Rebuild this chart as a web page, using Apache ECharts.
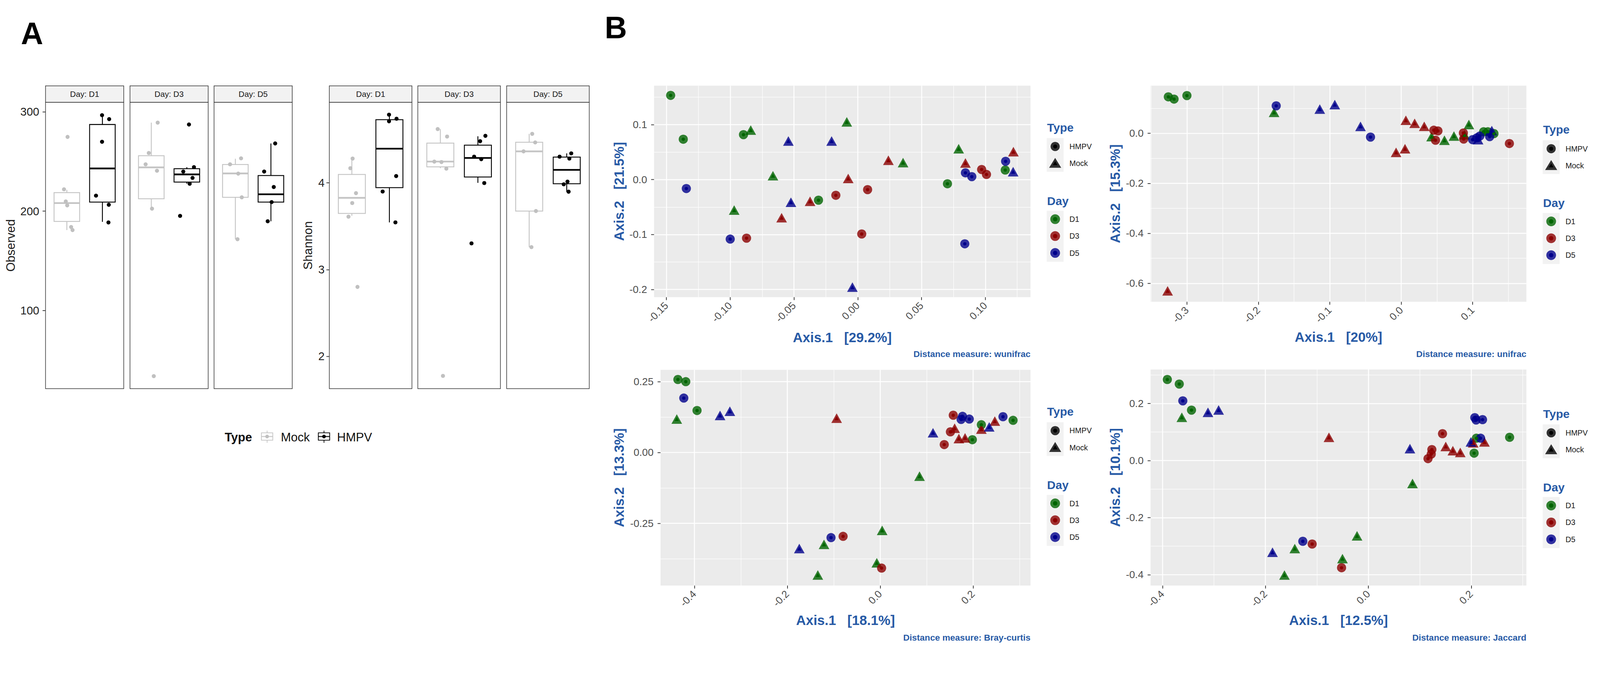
<!DOCTYPE html>
<html lang="en">
<head>
<meta charset="UTF-8">
<title>Alpha diversity and PCoA</title>
<script src="https://cdn.jsdelivr.net/npm/echarts@6/dist/echarts.min.js"></script>
<style>
  html, body { margin: 0; padding: 0; background: #fff; overflow: hidden; }
  #chart { width: 4358px; height: 1769px; transform-origin: 0 0; }
</style>
</head>
<body>
<div id="chart"></div>
<script>
// ---------- panel A : alpha diversity ----------
var days = ['D1', 'D3', 'D5'];
var types = ['Mock', 'HMPV'];

// box stats per day: [lower whisker, Q1, median, Q3, upper whisker]
var observedBoxMock = [[180.9, 189.6, 208.1, 218.7, 221.4], [202.5, 212.5, 244.1, 255.9, 289.2], [171.7, 213.9, 238.0, 247.0, 252.8]];
var observedBoxHmpv = [[189.2, 209.1, 243.0, 287.3, 296.7], [227.6, 229.3, 237.0, 242.8, 244.3], [189.8, 209.1, 217.0, 235.9, 268.2]];
var shannonBoxMock = [[3.62, 3.648, 3.827, 4.097, 4.28], [4.169, 4.185, 4.245, 4.458, 4.62], [3.259, 3.675, 4.363, 4.468, 4.565]];
var shannonBoxHmpv = [[3.544, 3.945, 4.394, 4.729, 4.786], [4.0, 4.067, 4.287, 4.435, 4.537], [3.895, 3.99, 4.15, 4.297, 4.34]];

// samples per day: [jitter offset, value]
var observedPtsMock = [
  [[0.02, 274.8], [-0.08, 222.0], [-0.03, 209.8], [0.01, 205.8], [0.12, 184.0], [0.16, 180.9]],
  [[0.18, 289.2], [-0.07, 258.6], [-0.16, 247.2], [0.16, 240.7], [0.02, 202.5], [0.07, 33.7]],
  [[0.16, 253.2], [-0.15, 247.2], [0.08, 237.8], [0.18, 213.9], [0.06, 171.7]]
];
var observedPtsHmpv = [
  [[-0.01, 296.7], [0.19, 292.7], [-0.01, 269.9], [-0.18, 215.6], [0.18, 206.4], [0.17, 188.6]],
  [[0.06, 287.3], [0.20, 244.3], [-0.10, 239.9], [0.16, 233.5], [0.08, 227.6], [-0.19, 195.2]],
  [[0.12, 268.2], [-0.19, 239.9], [0.08, 224.3], [0.02, 209.1], [-0.09, 189.8]]
];
var shannonPtsMock = [
  [[0.02, 4.28], [-0.04, 4.169], [0.11, 3.881], [0.01, 3.767], [-0.09, 3.61], [0.15, 2.80]],
  [[-0.07, 4.62], [0.18, 4.534], [-0.16, 4.245], [0.03, 4.24], [0.16, 4.164], [0.07, 1.774]],
  [[0.08, 4.565], [0.16, 4.466], [-0.15, 4.363], [0.18, 3.675], [0.06, 3.259]]
];
var shannonPtsHmpv = [
  [[-0.01, 4.786], [-0.01, 4.71], [0.19, 4.739], [0.18, 4.078], [-0.18, 3.90], [0.16, 3.544]],
  [[0.20, 4.542], [0.06, 4.48], [-0.10, 4.302], [0.09, 4.273], [0.17, 3.998], [-0.17, 3.302]],
  [[0.12, 4.34], [-0.19, 4.302], [0.07, 4.28], [0.02, 4.014], [-0.08, 3.983], [0.05, 3.898]]
];
var observedTicks = [100, 200, 300];
var shannonTicks = [2, 3, 4];
var observedRange = [21.1, 309.7];
var shannonRange = [1.627, 4.929];

// ---------- panel B : PCoA ordinations, [Axis.1, Axis.2] ----------
var wuD1Hmpv = [[-0.1467, 0.1532], [-0.1368, 0.0734], [-0.0896, 0.0817], [-0.0308, -0.0375], [0.0703, -0.0076], [0.1156, 0.0173]];
var wuD1Mock = [[-0.0839, 0.0900], [-0.0086, 0.1050], [-0.0665, 0.0070], [-0.0969, -0.0555], [0.0355, 0.0309], [0.0791, 0.0561]];
var wuD3Hmpv = [[-0.0872, -0.1066], [-0.0172, -0.0286], [0.0077, -0.0183], [0.0031, -0.0990], [0.0971, 0.0183], [0.1009, 0.0093]];
var wuD3Mock = [[-0.0597, -0.0694], [-0.0374, -0.0395], [-0.0075, 0.0020], [0.0240, 0.0352], [0.0844, 0.0302], [0.1220, 0.0508]];
var wuD5Hmpv = [[-0.1344, -0.0163], [-0.1000, -0.1083], [0.0839, -0.1169], [0.0844, 0.0123], [0.0894, 0.0053], [0.1159, 0.0332]];
var wuD5Mock = [[-0.0544, 0.0701], [-0.0205, 0.0701], [-0.0524, -0.0412], [-0.0042, -0.1957], [0.1218, 0.0143]];

var uD1Hmpv = [[-0.326, 0.146], [-0.318, 0.137], [-0.300, 0.151], [0.1153, 0.0063], [0.1213, 0.0063], [0.1298, -0.001]];
var uD1Mock = [[-0.178, 0.084], [0.0425, -0.013], [0.0605, -0.0276], [0.0738, -0.0107], [0.0947, 0.0354], [0.0887, -0.0058]];
var uD3Hmpv = [[0.0456, 0.0126], [0.0514, 0.0097], [0.048, -0.0276], [0.087, 0.0015], [0.0874, -0.0228], [0.1514, -0.0407]];
var uD3Mock = [[-0.327, -0.630], [0.0065, 0.0523], [0.0188, 0.0402], [0.0322, 0.0281], [-0.0072, -0.076], [0.0053, -0.0615]];
var uD5Hmpv = [[-0.175, 0.110], [-0.043, -0.015], [0.0999, -0.0252], [0.1059, -0.0179], [0.1101, -0.0107], [0.1238, -0.0131]];
var uD5Mock = [[-0.114, 0.097], [-0.093, 0.115], [-0.057, 0.028], [0.1076, -0.0252], [0.1268, 0.0111]];

var bcD1Hmpv = [[-0.4356, 0.2574], [-0.4186, 0.2497], [-0.3944, 0.148], [0.2861, 0.1133], [0.2178, 0.0978], [0.1984, 0.045]];
var bcD1Mock = [[-0.438, 0.1178], [0.0847, -0.0837], [0.0042, -0.2748], [-0.121, -0.3243], [-0.0073, -0.3893], [-0.1343, -0.4324]];
var bcD3Hmpv = [[0.1573, 0.1313], [0.1512, 0.0727], [0.1379, 0.0277], [-0.0799, -0.296], [0.003, -0.408]];
var bcD3Mock = [[-0.0938, 0.121], [0.1603, 0.0856], [0.1694, 0.0489], [0.1827, 0.0515], [0.2178, 0.0824], [0.2468, 0.1107]];
var bcD5Hmpv = [[-0.4229, 0.1918], [0.1773, 0.1274], [0.1742, 0.1165], [0.1918, 0.1178], [0.2644, 0.1261], [-0.1059, -0.3005]];
var bcD5Mock = [[-0.3448, 0.1306], [-0.3237, 0.1454], [0.1137, 0.0695], [0.2347, 0.0901], [-0.1742, -0.3391]];

var jD1Hmpv = [[-0.3906, 0.2837], [-0.3674, 0.2677], [-0.3436, 0.1764], [0.2746, 0.0812], [0.2056, 0.0256], [0.21, 0.078]];
var jD1Mock = [[-0.3624, 0.1514], [0.0859, -0.0805], [-0.0219, -0.2639], [-0.1429, -0.3086], [-0.0502, -0.3438], [-0.163, -0.4013]];
var jD3Hmpv = [[0.1442, 0.0939], [0.1235, 0.0383], [0.1223, 0.0224], [0.116, 0.0064], [-0.1091, -0.2927], [-0.052, -0.3757]];
var jD3Mock = [[-0.0765, 0.0812], [0.1505, 0.0492], [0.1643, 0.0345], [0.1787, 0.0281], [0.2038, 0.062], [0.2257, 0.0652]];
var jD5Hmpv = [[-0.3605, 0.2089], [0.2069, 0.1501], [0.2095, 0.1418], [0.222, 0.1431], [0.2182, 0.078], [-0.1273, -0.2831]];
var jD5Mock = [[-0.3116, 0.1687], [-0.2909, 0.177], [0.0809, 0.0415], [0.1994, 0.0652], [-0.1862, -0.3214]];

var axis1Pct = ['29.2%', '20%', '18.1%', '12.5%'];
var axis2Pct = ['21.5%', '15.3%', '13.3%', '10.1%'];
var distNames = ['wunifrac', 'unifrac', 'Bray-curtis', 'Jaccard'];

var wuXTicks = [-0.15, -0.10, -0.05, 0, 0.05, 0.10];
var wuXMinor = [-0.125, -0.075, -0.025, 0.025, 0.075, 0.125];
var wuYTicks = [-0.2, -0.1, 0, 0.1];
var wuYMinor = [-0.15, -0.05, 0.05, 0.15];
var uXTicks = [-0.3, -0.2, -0.1, 0, 0.1];
var uXMinor = [-0.35, -0.25, -0.15, -0.05, 0.05, 0.15];
var uYTicks = [-0.6, -0.4, -0.2, 0];
var uYMinor = [-0.5, -0.3, -0.1, 0.1];
var bcXTicks = [-0.4, -0.2, 0, 0.2];
var bcXMinor = [-0.3, -0.1, 0.1, 0.3];
var bcYTicks = [-0.25, 0, 0.25];
var bcYMinor = [-0.375, -0.125, 0.125];
var jXTicks = [-0.4, -0.2, 0, 0.2];
var jXMinor = [-0.3, -0.1, 0.1, 0.3];
var jYTicks = [-0.4, -0.2, 0, 0.2];
var jYMinor = [-0.3, -0.1, 0.1, 0.3];

var FONT = '"Liberation Sans", Arial, Helvetica, sans-serif';
var BLUE = '#275aa6';
var dayOuter = ['rgba(0,100,0,0.8)', 'rgba(139,0,0,0.8)', 'rgba(0,0,139,0.8)'];
var dayInner = ['#006400', '#8b0000', '#00008b'];

// the figure is laid out on a 4358 x 1769 canvas; shrink it to fit the viewport if needed
var dom = document.getElementById('chart');
var fit = Math.min(window.innerWidth / 4358, window.innerHeight / 1769);
if (fit < 1) dom.style.transform = 'scale(' + fit + ')';
var chart = echarts.init(dom, null, { renderer: 'svg' });

var grids = [], xAxes = [], yAxes = [], series = [], elements = [];

// ---- panel A layout ----
var alphaPlots = [
  { name: 'Observed', lefts: [124, 354, 583], width: 213, ticks: observedTicks, range: observedRange,
    boxes: [observedBoxMock, observedBoxHmpv], pts: [observedPtsMock, observedPtsHmpv], nameGap: 78, labelMargin: 17 },
  { name: 'Shannon', lefts: [897, 1138, 1380], width: 225, ticks: shannonTicks, range: shannonRange,
    boxes: [shannonBoxMock, shannonBoxHmpv], pts: [shannonPtsMock, shannonPtsHmpv], nameGap: 42, labelMargin: 13 }
];
var boxColor = ['#c4c4c4', '#000000'];
var ptColor = ['#c0c0c0', '#000000'];
var boxHalf = 0.36;
var panelTop = 278.6, panelH = 780, stripH = 44.9;

function renderBox(params, api) {
  var x = api.value(0);
  var lo = api.coord([x, api.value(1)]);
  var q1 = api.coord([x, api.value(2)]);
  var md = api.coord([x, api.value(3)]);
  var q3 = api.coord([x, api.value(4)]);
  var hi = api.coord([x, api.value(5)]);
  var l = api.coord([x - boxHalf, api.value(3)])[0];
  var r = api.coord([x + boxHalf, api.value(3)])[0];
  var c = api.visual('color');
  return {
    type: 'group',
    children: [
      { type: 'line', shape: { x1: lo[0], y1: lo[1], x2: q1[0], y2: q1[1] }, style: { stroke: c, lineWidth: 2.4 } },
      { type: 'line', shape: { x1: q3[0], y1: q3[1], x2: hi[0], y2: hi[1] }, style: { stroke: c, lineWidth: 2.4 } },
      { type: 'rect', shape: { x: l, y: q3[1], width: r - l, height: q1[1] - q3[1] }, style: { stroke: c, lineWidth: 2.4, fill: '#fff' } },
      { type: 'line', shape: { x1: l, y1: md[1], x2: r, y2: md[1] }, style: { stroke: c, lineWidth: 4.6 } }
    ]
  };
}

alphaPlots.forEach(function (ap) {
  days.forEach(function (day, di) {
    var gi = grids.length;
    grids.push({ left: ap.lefts[di], top: panelTop, width: ap.width, height: panelH,
      show: true, backgroundColor: '#fff', borderColor: '#333', borderWidth: 1.6 });
    xAxes.push({ gridIndex: gi, type: 'value', min: 0.4, max: 2.6,
      axisLine: { show: false, onZero: false }, axisTick: { show: false }, axisLabel: { show: false }, splitLine: { show: false } });
    var first = di === 0;
    yAxes.push({ gridIndex: gi, type: 'value', min: ap.range[0], max: ap.range[1],
      name: first ? ap.name : '', nameLocation: 'middle', nameRotate: 90, nameGap: ap.nameGap,
      nameTextStyle: { fontSize: 33, color: '#1a1a1a', fontFamily: FONT },
      axisLine: { show: false, onZero: false },
      axisTick: { show: first, customValues: ap.ticks, length: 8, lineStyle: { color: '#333', width: 2 } },
      axisLabel: { show: first, customValues: ap.ticks, margin: ap.labelMargin, fontSize: 31, color: '#222', fontFamily: FONT },
      splitLine: { show: false } });
    types.forEach(function (t, ti) {
      var b = ap.boxes[ti][di];
      series.push({ type: 'custom', name: t, xAxisIndex: gi, yAxisIndex: gi,
        renderItem: renderBox, itemStyle: { color: boxColor[ti] },
        encode: { x: 0, y: [1, 2, 3, 4, 5] },
        data: [[ti + 1, b[0], b[1], b[2], b[3], b[4]]], z: 2 });
    });
    types.forEach(function (t, ti) {
      series.push({ type: 'scatter', name: t, xAxisIndex: gi, yAxisIndex: gi, symbolSize: 11, z: 3,
        itemStyle: { color: ptColor[ti], opacity: 1 },
        data: ap.pts[ti][di].map(function (p) { return [ti + 1 + p[0], p[1]]; }) });
    });
    // facet strip
    elements.push({ type: 'rect', shape: { x: ap.lefts[di], y: panelTop - stripH, width: ap.width, height: stripH },
      style: { fill: '#f2f2f2', stroke: '#333', lineWidth: 1.6 } });
    elements.push({ type: 'text', x: ap.lefts[di] + ap.width / 2, y: panelTop - stripH / 2,
      style: { text: 'Day: ' + day, fontSize: 22, fontFamily: FONT, fill: '#1a1a1a',
        textAlign: 'center', textVerticalAlign: 'middle', align: 'center', verticalAlign: 'middle' } });
  });
});

// ---- panel B layout ----
var pcoaPlots = [
  { rect: [1781.5, 233.4, 1025.3, 576.1], xr: [-0.1597, 0.1354], yr: [-0.214, 0.1708],
    xt: wuXTicks, xm: wuXMinor, yt: wuYTicks, ym: wuYMinor, xd: 2, yd: 1,
    groups: [wuD1Hmpv, wuD1Mock, wuD3Hmpv, wuD3Mock, wuD5Hmpv, wuD5Mock], xGap: 91, yGap: 77, legend: [2851, 347] },
  { rect: [3133.8, 233.4, 1023.7, 588.6], xr: [-0.3509, 0.1752], yr: [-0.6737, 0.1906],
    xt: uXTicks, xm: uXMinor, yt: uYTicks, ym: uYMinor, xd: 1, yd: 1,
    groups: [uD1Hmpv, uD1Mock, uD3Hmpv, uD3Mock, uD5Hmpv, uD5Mock], xGap: 78, yGap: 78, legend: [4202, 353] },
  { rect: [1799.1, 1007.4, 1007.7, 587.6], xr: [-0.473, 0.3236], yr: [-0.4697, 0.2914],
    xt: bcXTicks, xm: bcXMinor, yt: bcYTicks, ym: bcYMinor, xd: 1, yd: 2,
    groups: [bcD1Hmpv, bcD1Mock, bcD3Hmpv, bcD3Mock, bcD5Hmpv, bcD5Mock], xGap: 76, yGap: 94, legend: [2851, 1121] },
  { rect: [3133.8, 1006.4, 1023.7, 588.6], xr: [-0.4232, 0.3072], yr: [-0.4382, 0.3188],
    xt: jXTicks, xm: jXMinor, yt: jYTicks, ym: jYMinor, xd: 1, yd: 1,
    groups: [jD1Hmpv, jD1Mock, jD3Hmpv, jD3Mock, jD5Hmpv, jD5Mock], xGap: 76, yGap: 78, legend: [4202, 1127] }
];

var tickStyle = { color: '#333', width: 2 };
var labelStyle = { fontSize: 28, color: '#4d4d4d', fontFamily: FONT };
var titleStyle = { fontSize: 37, fontWeight: 'bold', color: BLUE, fontFamily: FONT };

pcoaPlots.forEach(function (pp, pi) {
  var gi = grids.length;
  grids.push({ left: pp.rect[0], top: pp.rect[1], width: pp.rect[2], height: pp.rect[3],
    show: true, backgroundColor: '#ebebeb', borderWidth: 0 });
  var xMain = xAxes.length;
  xAxes.push({ gridIndex: gi, type: 'value', min: pp.xr[0], max: pp.xr[1], position: 'bottom',
    name: 'Axis.1   [' + axis1Pct[pi] + ']', nameLocation: 'middle', nameGap: pp.xGap, nameTextStyle: titleStyle,
    axisLine: { show: false, onZero: false },
    axisTick: { show: true, customValues: pp.xt, length: 8, lineStyle: tickStyle },
    axisLabel: Object.assign({ customValues: pp.xt, rotate: 45, margin: 18,
      formatter: function (v) { return v.toFixed(pp.xd); } }, labelStyle),
    splitLine: { show: true, lineStyle: { color: '#fff', width: 2.6 } } });
  xAxes.push({ gridIndex: gi, type: 'value', min: pp.xr[0], max: pp.xr[1], position: 'top',
    axisLine: { show: false, onZero: false }, axisTick: { show: false, customValues: pp.xm }, axisLabel: { show: false },
    splitLine: { show: true, lineStyle: { color: '#fff', width: 1.3 } } });
  var yMain = yAxes.length;
  yAxes.push({ gridIndex: gi, type: 'value', min: pp.yr[0], max: pp.yr[1], position: 'left',
    name: 'Axis.2   [' + axis2Pct[pi] + ']', nameLocation: 'middle', nameRotate: 90, nameGap: pp.yGap, nameTextStyle: titleStyle,
    axisLine: { show: false, onZero: false },
    axisTick: { show: true, customValues: pp.yt, length: 8, lineStyle: tickStyle },
    axisLabel: Object.assign({ customValues: pp.yt, margin: 19,
      formatter: function (v) { return v.toFixed(pp.yd); } }, labelStyle),
    splitLine: { show: true, lineStyle: { color: '#fff', width: 2.6 } } });
  yAxes.push({ gridIndex: gi, type: 'value', min: pp.yr[0], max: pp.yr[1], position: 'right',
    axisLine: { show: false, onZero: false }, axisTick: { show: false, customValues: pp.ym }, axisLabel: { show: false },
    splitLine: { show: true, lineStyle: { color: '#fff', width: 1.3 } } });

  // outer translucent marks first, then the solid centres
  [0, 1].forEach(function (layer) {
    pp.groups.forEach(function (g, k) {
      var d = Math.floor(k / 2), isMock = k % 2 === 1;
      var size = layer === 0 ? (isMock ? [29, 26] : 25) : (isMock ? [12, 11] : 9);
      series.push({ type: 'scatter', name: days[d] + ' ' + (isMock ? 'Mock' : 'HMPV'),
        xAxisIndex: xMain, yAxisIndex: yMain, symbol: isMock ? 'triangle' : 'circle', symbolSize: size,
        z: 3 + layer, itemStyle: { color: layer === 0 ? dayOuter[d] : dayInner[d], opacity: 1 },
        data: g });
    });
  });

  // distance label
  elements.push({ type: 'text', x: pp.rect[0] + pp.rect[2], y: pi < 2 ? 964 : 1737,
    style: { text: 'Distance measure: ' + distNames[pi], fontSize: 24, fontWeight: 'bold', fontFamily: FONT, fill: BLUE,
      textAlign: 'right', textVerticalAlign: 'middle', align: 'right', verticalAlign: 'middle' } });

  // legend
  var lx = pp.legend[0], ly = pp.legend[1], kc = lx + 23;
  function txt(s, x, y, size, bold, color) {
    elements.push({ type: 'text', x: x, y: y, style: { text: s, fontSize: size, fontWeight: bold ? 'bold' : 'normal',
      fontFamily: FONT, fill: color, textAlign: 'left', textVerticalAlign: 'middle', align: 'left', verticalAlign: 'middle' } });
  }
  txt('Type', lx + 1, ly, 32, true, BLUE);
  elements.push({ type: 'rect', shape: { x: lx, y: ly + 29, width: 46, height: 92 }, style: { fill: '#f2f2f2' } });
  elements.push({ type: 'circle', shape: { cx: kc, cy: ly + 52, r: 12.5 }, style: { fill: 'rgba(0,0,0,0.8)' } });
  elements.push({ type: 'circle', shape: { cx: kc, cy: ly + 52, r: 5.5 }, style: { fill: '#000' } });
  elements.push({ type: 'polygon', shape: { points: [[kc, ly + 83], [kc + 16.5, ly + 110], [kc - 16.5, ly + 110]] }, style: { fill: 'rgba(0,0,0,0.8)' } });
  elements.push({ type: 'polygon', shape: { points: [[kc, ly + 92], [kc + 6.5, ly + 103], [kc - 6.5, ly + 103]] }, style: { fill: '#000' } });
  txt('HMPV', lx + 62, ly + 52, 21, false, '#1a1a1a');
  txt('Mock', lx + 62, ly + 98, 21, false, '#1a1a1a');
  txt('Day', lx + 1, ly + 200, 32, true, BLUE);
  elements.push({ type: 'rect', shape: { x: lx, y: ly + 227, width: 46, height: 139 }, style: { fill: '#f2f2f2' } });
  days.forEach(function (day, d) {
    var cy = ly + 250 + d * 46;
    elements.push({ type: 'circle', shape: { cx: kc, cy: cy, r: 13.3 }, style: { fill: dayOuter[d] } });
    elements.push({ type: 'circle', shape: { cx: kc, cy: cy, r: 6 }, style: { fill: dayInner[d] } });
    txt(day, lx + 62, cy, 21, false, '#1a1a1a');
  });
});

// ---- panel A legend ----
function boxKey(x0, color, dot) {
  elements.push({ type: 'line', shape: { x1: x0 + 15.5, y1: 1173, x2: x0 + 15.5, y2: 1206 }, style: { stroke: color, lineWidth: 2 } });
  elements.push({ type: 'rect', shape: { x: x0, y: 1179, width: 31, height: 20 }, style: { stroke: color, lineWidth: 2, fill: '#fff' } });
  elements.push({ type: 'line', shape: { x1: x0, y1: 1189, x2: x0 + 31, y2: 1189 }, style: { stroke: color, lineWidth: 2.4 } });
  elements.push({ type: 'circle', shape: { cx: x0 + 15.5, cy: 1189, r: 5 }, style: { fill: dot } });
}
elements.push({ type: 'text', x: 612, y: 1191, style: { text: 'Type', fontSize: 33, fontWeight: 'bold', fontFamily: FONT, fill: '#111',
  textAlign: 'left', textVerticalAlign: 'middle', align: 'left', verticalAlign: 'middle' } });
boxKey(712, boxColor[0], ptColor[0]);
elements.push({ type: 'text', x: 765, y: 1191, style: { text: types[0], fontSize: 33, fontFamily: FONT, fill: '#111',
  textAlign: 'left', textVerticalAlign: 'middle', align: 'left', verticalAlign: 'middle' } });
boxKey(867, boxColor[1], ptColor[1]);
elements.push({ type: 'text', x: 918, y: 1191, style: { text: types[1], fontSize: 33, fontFamily: FONT, fill: '#111',
  textAlign: 'left', textVerticalAlign: 'middle', align: 'left', verticalAlign: 'middle' } });

// panel letters
elements.push({ type: 'text', x: 57, y: 91, style: { text: 'A', fontSize: 84, fontWeight: 'bold', fontFamily: FONT, fill: '#000',
  textAlign: 'left', textVerticalAlign: 'middle', align: 'left', verticalAlign: 'middle' } });
elements.push({ type: 'text', x: 1647, y: 76, style: { text: 'B', fontSize: 84, fontWeight: 'bold', fontFamily: FONT, fill: '#000',
  textAlign: 'left', textVerticalAlign: 'middle', align: 'left', verticalAlign: 'middle' } });

chart.setOption({
  animation: false,
  backgroundColor: '#fff',
  textStyle: { fontFamily: FONT },
  grid: grids,
  xAxis: xAxes,
  yAxis: yAxes,
  series: series,
  graphic: { elements: elements }
});
</script>
</body>
</html>
